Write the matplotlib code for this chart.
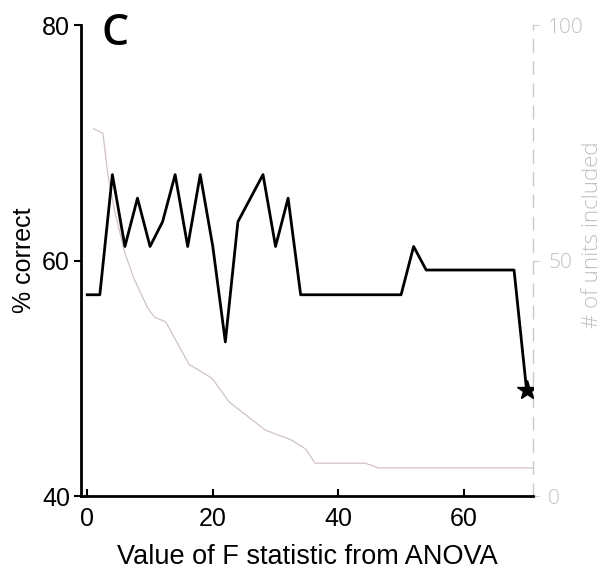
import matplotlib
matplotlib.use("Agg")
import matplotlib.pyplot as plt

# % correct vs F threshold
f_thresh = [0, 2, 4, 6, 8, 10, 12, 14, 16, 18, 20, 22, 24, 26, 28, 30, 32, 34,
            36, 38, 40, 42, 44, 46, 48, 50, 52, 54, 56, 58, 60, 62, 64, 66, 68, 70]
pct_correct = [57.1, 57.1, 67.3, 61.2, 65.3, 61.2, 63.3, 67.3, 61.2, 67.3, 61.2, 53.1,
               63.3, 65.3, 67.3, 61.2, 65.3, 57.1, 57.1, 57.1, 57.1, 57.1, 57.1, 57.1,
               57.1, 57.1, 61.2, 59.2, 59.2, 59.2, 59.2, 59.2, 59.2, 59.2, 59.2, 49.0]

# number of units included
units_x = [1, 2.5, 3.3, 4.3, 5.9, 7.5, 9.6, 10.7, 12.5, 16.2, 19.9, 22.6, 25.5,
           28.4, 32.4, 34.8, 36.3, 44.3, 46.4, 71]
units_n = [78, 77, 68, 61, 52, 46, 40, 38, 37, 28, 25, 20, 17, 14, 12, 10, 7, 7, 6, 6]

left_ticks = [40, 60, 80]
right_ticks = [0, 50, 100]
x_ticks = [0, 20, 40, 60]

fig = plt.figure(figsize=(6.09, 5.69), dpi=100)
ax = fig.add_axes([0.133, 0.128, 0.742, 0.828])
ax2 = ax.twinx()

# gray units line on secondary axis
ax2.plot(units_x, units_n, color="#d2c3c3", lw=0.9)
ax2.set_ylim(0, 100)
ax2.set_yticks(right_ticks)
ax2.set_yticklabels(["0", "50", "100"], fontfamily="Open Sans", fontweight="light",
                    fontsize=15, color="#c0c0c0")
ax2.tick_params(axis="y", direction="out", length=4, color="#cccccc", pad=7)
ax2.set_ylabel("# of units included", fontfamily="Open Sans", fontweight="light",
               fontsize=16, color="#c0c0c0")
ax2.yaxis.set_label_coords(1.108, 0.554)
for s in ["top", "left", "bottom"]:
    ax2.spines[s].set_visible(False)
ax2.spines["right"].set_color("#c8c8c8")
ax2.spines["right"].set_linestyle((0, (9, 7)))
ax2.spines["right"].set_linewidth(1.0)

# main black line
ax.plot(f_thresh, pct_correct, color="black", lw=2.0, zorder=3)
ax.plot(f_thresh[-1], pct_correct[-1], marker="*", color="black", ms=15, zorder=4)
ax.set_zorder(ax2.get_zorder() + 1)
ax.patch.set_visible(False)

ax.set_xlim(-1, 71)
ax.set_ylim(40, 80)
ax.set_xticks(x_ticks)
ax.set_yticks(left_ticks)
for lab in ax.get_xticklabels() + ax.get_yticklabels():
    lab.set_fontfamily("Liberation Sans")
    lab.set_fontsize(18)
ax.tick_params(axis="x", direction="in", length=5, width=1.5, pad=8)
ax.tick_params(axis="y", direction="out", length=5, width=1.5, pad=3)
ax.set_xlabel("Value of F statistic from ANOVA", fontfamily="Liberation Sans",
              fontsize=19.5, labelpad=9)
ax.set_ylabel("% correct", fontfamily="Liberation Sans", fontsize=18, labelpad=4)
for s in ["top", "right"]:
    ax.spines[s].set_visible(False)
ax.spines["left"].set_linewidth(2.0)
ax.spines["bottom"].set_linewidth(2.0)

fig.text(101 / 609, 1 - 45 / 569, "C", fontfamily="Open Sans", fontweight="semibold",
         fontsize=31, ha="left", va="baseline")

fig.savefig("out.png", dpi=100)
